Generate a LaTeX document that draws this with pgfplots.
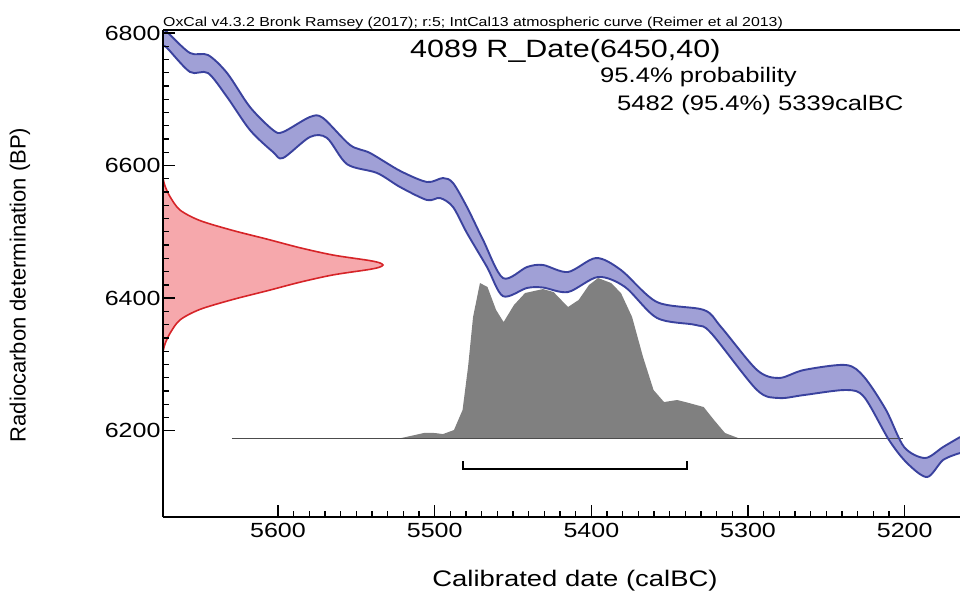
\documentclass[border=0pt]{standalone}
\usepackage{fontspec}
\setmainfont{Liberation Sans}[FakeStretch=1.22]
\newfontfamily\ylabfont{Liberation Sans}
\usepackage{pgfplots}
\usepackage{pgfplotstable}
\pgfplotsset{compat=1.18}
\usepgfplotslibrary{fillbetween}

\definecolor{bandfill}{RGB}{160,160,214}
\definecolor{bandedge}{RGB}{58,66,158}
\definecolor{redfill}{RGB}{246,168,172}
\definecolor{rededge}{RGB}{214,36,40}
\definecolor{distgray}{RGB}{128,128,128}
\newcommand{\fs}[1]{\fontsize{#1}{#1}\selectfont}

% calibration curve, upper and lower edge of the band
\pgfplotstableread{
x y
5673.4 6806
5670.8 6801.5
5656.2 6769.8
5644.7 6766.8
5632.5 6739.6
5617.9 6688.3
5603.2 6653.6
5596.8 6650.6
5579.6 6673.3
5571.3 6671.8
5554.0 6631.0
5541.3 6619
5522.1 6592
5504.9 6575.2
5494.7 6581.2
5488.3 6573.7
5479.4 6537.5
5469.1 6487.7
5456.4 6430.3
5441.1 6446.9
5430.9 6450
5414.9 6439.4
5397.0 6460.5
5381.1 6442.4
5358.1 6394.1
5328.1 6382.1
5317.2 6356.4
5294.3 6291.6
5280.2 6279.5
5264.3 6291.6
5237.4 6299.1
5225.9 6281.0
5211.9 6231.2
5200.4 6175.4
5187.0 6158.8
5175.5 6175.4
5164.7 6190.4
}\bandup
\pgfplotstableread{
x y
5673.4 6780
5670.8 6777.4
5656.2 6741.2
5644.7 6739.6
5632.5 6703.4
5617.9 6653.6
5603.2 6620.5
5596.8 6611.4
5579.6 6643.1
5568.7 6641.6
5555.9 6602
5536.8 6588.8
5522.1 6567.6
5504.9 6548.0
5496.6 6551.0
5488.3 6537.5
5479.4 6498.2
5466.6 6446.9
5456.4 6403
5441.1 6415.3
5430.9 6416
5414.9 6409.2
5395.7 6431.9
5378.5 6416.8
5358.1 6370.0
5333.2 6359.4
5323.6 6347.4
5294.3 6261.4
5280.2 6249.3
5264.3 6253.8
5237.4 6261.4
5225.9 6250.8
5210.0 6185.9
5198.5 6151.2
5185.7 6130.1
5175.5 6155.8
5164.7 6166.3
}\bandlo

\begin{document}
\begin{tikzpicture}
\begin{axis}[
  scale only axis, width=797pt, height=487pt,
  x dir=reverse,
  xmin=5164.7, xmax=5673.4, ymin=6069.8, ymax=6804.5,
  axis x line=box, axis y line=left,
  axis line style={-, line width=1.7pt, black},
  xtick pos=left, ytick pos=left,
  xtick={5600,5500,5400,5300,5200}, ytick={6200,6400,6600,6800},
  minor x tick num=9, minor y tick num=9,
  tick align=inside,
  major tick length=12pt, minor tick length=6pt,
  tick style={line width=1.3pt, black},
  tick label style={font=\fs{20.5}, text=black},
  xticklabel style={yshift=-3pt},
  yticklabel style={xshift=1pt},
  /pgf/number format/assume math mode=true,
  /pgf/number format/set thousands separator={},
  axis on top,
]
% calibrated date distribution
\addplot[draw=none, fill=distgray] coordinates {
(5629.4,6188.5) (5522.1,6188.5) (5506.2,6196.9) (5499.8,6196.5) (5494.7,6194.9)
(5487.7,6201.0) (5482.2,6231.2) (5478.7,6296.1) (5475.5,6371.5) (5471.1,6422.8)
(5466.3,6416.8) (5460.8,6382.1) (5456.0,6363.9) (5449.4,6389.6) (5442.3,6407.7)
(5430.9,6413.7) (5424.1,6409.2) (5414.9,6386.6) (5408.1,6397.2) (5401.5,6419.8)
(5395.7,6430.3) (5387.4,6422.8) (5381.1,6407.7) (5374.0,6371.5) (5367.0,6311.1)
(5360.3,6261.4) (5353.6,6243.2) (5345.3,6246.3) (5337.7,6241.8) (5328.3,6235.7)
(5321.7,6216.1) (5314.7,6196.5) (5305.8,6188.5) (5201.1,6188.5)
} -- cycle;
\addplot[black!70, line width=0.8pt] coordinates {(5629.4,6188.5) (5201.1,6188.5)};

% radiocarbon date
\addplot[smooth, fill=redfill, draw=rededge, line width=1.6pt] coordinates {
(5673.4,6581) (5672.1,6569) (5668.9,6553) (5662.6,6533) (5649.8,6517)
(5628.7,6502) (5607.0,6489) (5586.0,6476) (5564.9,6465) (5542.4,6457)
(5535.4,6453.5) (5533.0,6450) (5535.4,6446.5)
(5542.4,6443) (5564.9,6435) (5586.0,6424) (5607.0,6411) (5628.7,6398)
(5649.8,6383) (5662.6,6367) (5668.9,6347) (5672.1,6331) (5673.4,6319)
} -- cycle;

% calibration curve
\addplot[name path=up, draw=none, smooth] table {\bandup};
\addplot[name path=lo, draw=none, smooth] table {\bandlo};
\addplot[bandfill] fill between[of=up and lo];
\addplot[bandedge, line width=1.9pt, smooth] table {\bandup};
\addplot[bandedge, line width=1.9pt, smooth] table {\bandlo};

% 95.4% range
\addplot[black, line width=1.7pt] coordinates {(5482,6154) (5482,6142) (5339,6142) (5339,6154)};
\end{axis}

\node[anchor=base west, inner sep=0, font=\fs{13}] at (0pt,490pt)
  {OxCal v4.3.2 Bronk Ramsey (2017); r:5; IntCal13 atmospheric curve (Reimer et al 2013)};
\node[anchor=base west, inner sep=0, font=\fs{25}] at (247pt,459pt) {4089 R\_Date(6450,40)};
\node[anchor=base west, inner sep=0, font=\fs{21}] at (437pt,434pt) {95.4\% probability};
\node[anchor=base west, inner sep=0, font=\fs{21}] at (454pt,406pt) {5482 (95.4\%) 5339calBC};
\node[anchor=base, inner sep=0, font=\fs{22.5}] at (412pt,-69pt) {Calibrated date (calBC)};
\node[rotate=90, inner sep=0, font=\ylabfont\fs{22}] at (-143pt,232pt) {Radiocarbon determination (BP)};

\pgfresetboundingbox
\path[use as bounding box] (-163pt,-73pt) rectangle (797pt,517pt);
\end{tikzpicture}
\end{document}
